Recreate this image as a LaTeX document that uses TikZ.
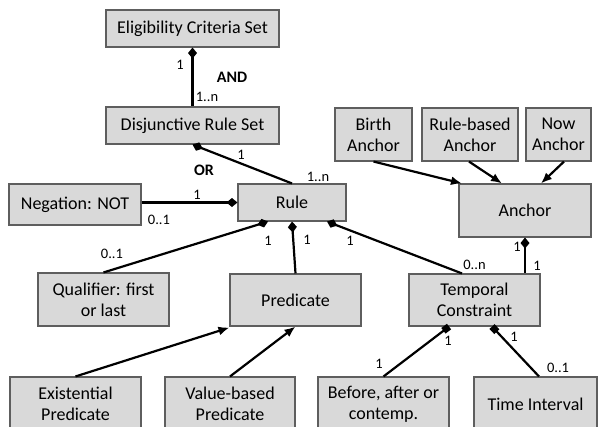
\documentclass[tikz,border=0pt]{standalone}
\usepackage{fontspec}
\setmainfont{Carlito}
\usetikzlibrary{arrows.meta}
\definecolor{boxfill}{HTML}{D9D9D9}
\definecolor{boxline}{HTML}{5E5E5E}
\tikzset{
  umlbox/.style={draw=boxline, fill=boxfill, line width=1.1pt, inner sep=0pt, align=center,
    font=\fontsize{18}{21}\selectfont},
  conn/.style={line width=2.2pt, black},
  mult/.style={font=\fontsize{14.5}{16}\selectfont, inner sep=0pt},
  opl/.style={font=\fontsize{16}{18}\selectfont\bfseries, inner sep=0pt},
  comp/.tip={Diamond[length=11pt,width=9pt]},
  aggsq/.tip={Square[length=7pt,width=7pt]},
  gen/.tip={Latex[length=11pt,width=9pt]}
}
\begin{document}
\begin{tikzpicture}[x=1pt,y=-1pt]
\useasboundingbox (0,0) rectangle (601,426);
\clip (0,0) rectangle (601,426);
% boxes
\node[umlbox, minimum width=173pt, minimum height=37pt] (elig) at (192.5,28.5) {Eligibility Criteria Set};
\node[umlbox, minimum width=173pt, minimum height=37pt] (disj) at (192.5,125.5) {Disjunctive Rule Set};
\node[umlbox, minimum width=132pt, minimum height=41pt] (neg) at (75,204.5) {Negation: NOT};
\node[umlbox, minimum width=108pt, minimum height=37pt] (rule) at (292,202.5) {Rule};
\node[umlbox, minimum width=132pt, minimum height=53pt] (anchor) at (525,210.5) {Anchor};
\node[umlbox, minimum width=77pt, minimum height=53pt] (birth) at (373.5,134.5) {Birth\\Anchor};
\node[umlbox, minimum width=96pt, minimum height=53pt] (rba) at (470,134.5) {Rule-based\\Anchor};
\node[umlbox, minimum width=65pt, minimum height=53pt] (now) at (558.5,134.5) {Now\\Anchor};
\node[umlbox, minimum width=131pt, minimum height=53pt] (qual) at (103.5,299.5) {Qualifier: first\\or last};
\node[umlbox, minimum width=131pt, minimum height=52pt] (pred) at (295.5,300) {Predicate};
\node[umlbox, minimum width=131pt, minimum height=52pt] (temp) at (474.5,300) {Temporal\\Constraint};
\node[umlbox, minimum width=131pt, minimum height=54pt] (exist) at (75.5,404) {Existential\\Predicate};
\node[umlbox, minimum width=130pt, minimum height=54pt] (value) at (230,404) {Value-based\\Predicate};
\node[umlbox, minimum width=131pt, minimum height=54pt] (before) at (383.5,404) {Before, after or\\contemp.};
\node[umlbox, minimum width=123pt, minimum height=54pt] (time) at (535.5,404) {Time Interval};
% connectors
\draw[conn, {comp}-] (elig.south) -- (disj.north);
\draw[conn, {comp}-] (disj.south) -- (rule.north);
\draw[conn, -{comp}] (rule.west -| neg.east) -- (rule.west);
\draw[conn, {comp}-] ([xshift=-24pt]rule.south) -- (qual.north);
\draw[conn, {comp}-] (rule.south) -- (pred.north);
\draw[conn, {comp}-] ([xshift=35pt]rule.south) -- ([xshift=-12.5pt]temp.north);
\draw[conn, {comp}-] (anchor.south) -- (anchor.south |- temp.north);
\draw[conn, -{gen}] (birth.south) -- ([xshift=-63pt]anchor.north);
\draw[conn, -{gen}] ([xshift=-1pt]rba.south) -- ([xshift=-23pt]anchor.north);
\draw[conn, -{gen}] ([xshift=5.5pt]now.south) -- ([xshift=16pt]anchor.north);
\draw[conn, -{gen}] (exist.north) -- ([yshift=-1pt]pred.south west);
\draw[conn, -{gen}] (value.north) -- (pred.south);
\draw[conn, {aggsq}-] ([xshift=-25.5pt]temp.south) -- (before.north);
\draw[conn, {aggsq}-] ([xshift=17.5pt]temp.south) -- ([xshift=3.5pt]time.north);
% multiplicities and labels
\node[mult] (m1) at (180,65) {1};
\node[opl] (and) at (232,77) {AND};
\node[mult] (m2) at (207,97) {1..n};
\node[mult] (m3) at (241,155) {1};
\node[opl] (or) at (204,170) {OR};
\node[mult] (m4) at (318,177) {1..n};
\node[mult] (m5) at (197,195) {1};
\node[mult] (m6) at (159,220) {0..1};
\node[mult] (m7) at (112,254) {0..1};
\node[mult] (m8) at (268,241) {1};
\node[mult] (m9) at (307,240) {1};
\node[mult] (m10) at (350,241) {1};
\node[mult] (m11) at (474.5,265) {0..n};
\node[mult] (m12) at (517,247) {1};
\node[mult] (m13) at (537,266) {1};
\node[mult] (m14) at (448,341) {1};
\node[mult] (m15) at (379,364) {1};
\node[mult] (m16) at (514,337) {1};
\node[mult] (m17) at (558,368) {0..1};
\end{tikzpicture}
\end{document}
